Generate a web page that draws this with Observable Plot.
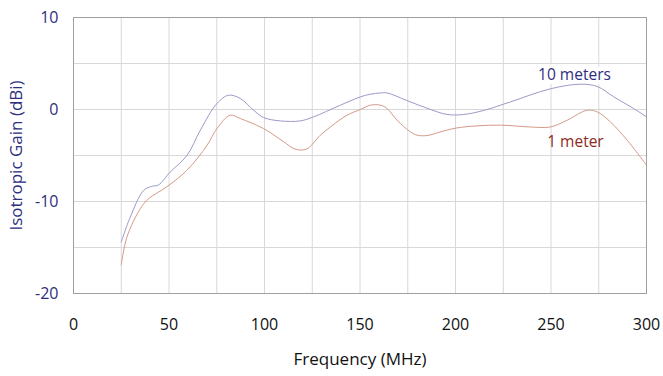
<!DOCTYPE html>
<html>
<head>
<meta charset="utf-8">
<script src="https://cdn.jsdelivr.net/npm/d3@7"></script>
<script src="https://cdn.jsdelivr.net/npm/@observablehq/plot@0.6"></script>
<style>
  html, body { margin: 0; padding: 0; background: #fff; }
  #chart svg { display: block; }
</style>
</head>
<body>
<div id="chart"></div>
<script>
// 10 meters series
const freq10 = [25, 29.7, 36.7, 41, 44.5, 50.6, 59.4, 66.4, 75.1, 81.2, 87.3, 94.3, 99.5, 108.3, 118.7, 125.7, 139.7, 150.2, 155.4, 160.7, 164.2, 174.6, 185.1, 195.6, 204.3, 214.8, 228.8, 249.7, 265.4, 274.2, 282.9, 293.3, 300];
const gain10 = [-14.4, -11.7, -8.8, -8.35, -8.2, -6.8, -5.0, -2.25, 0.65, 1.55, 1.2, -0.08, -0.87, -1.24, -1.24, -0.8, 0.47, 1.37, 1.66, 1.8, 1.8, 0.97, 0.14, -0.54, -0.54, -0.1, 0.83, 2.25, 2.75, 2.5, 1.37, 0.1, -0.8];
// 1 meter series
const freq1 = [25, 28, 35, 39.3, 48.9, 59.4, 69.9, 75.1, 82, 87.3, 99.5, 110, 116, 122, 129.2, 134.5, 143.2, 150.2, 155.4, 160.7, 164.2, 169.4, 176.4, 179.9, 185.1, 193.8, 200.8, 211.3, 223.5, 239.2, 249.7, 258.5, 268.9, 274.2, 281.1, 289.9, 300];
const gain1 = [-16.9, -13.85, -10.77, -9.7, -8.4, -6.6, -3.9, -2.07, -0.62, -0.98, -2.07, -3.5, -4.3, -4.3, -2.8, -1.9, -0.62, 0.0, 0.47, 0.47, 0.1, -1.16, -2.43, -2.79, -2.83, -2.33, -2.0, -1.78, -1.7, -1.9, -1.9, -1.16, -0.08, -0.26, -1.35, -3.34, -6.05];
// ticks
const xTicks = [0, 50, 100, 150, 200, 250, 300];
const xGrid = [25, 50, 75, 100, 125, 150, 175, 200, 225, 250, 275];
const yTicks = [-20, -10, 0, 10];
const yGrid = [-15, -10, -5, 0, 5];
// series labels
const seriesNames = ["10 meters", "1 meter"];
const labelFreq = [262.3, 262.8];
const labelGain = [3.73, -3.5];

const navy = "#2e2e7e";
const data10 = freq10.map((f, i) => ({f, g: gain10[i]}));
const data1 = freq1.map((f, i) => ({f, g: gain1[i]}));

const chart = Plot.plot({
  width: 663,
  height: 376,
  marginLeft: 73,
  marginRight: 17,
  marginTop: 17,
  marginBottom: 83,
  style: {fontFamily: "'Open Sans', sans-serif", fontSize: "15px", background: "#fff"},
  x: {domain: [0, 300], labelArrow: "none"},
  y: {domain: [-20, 10], labelArrow: "none"},
  marks: [
    Plot.gridX(xGrid, {stroke: "#d8d8d8", strokeOpacity: 1}),
    Plot.gridY(yGrid, {stroke: "#d8d8d8", strokeOpacity: 1}),
    Plot.frame({stroke: "#a0a0a0"}),
    Plot.axisX(xTicks, {tickSize: 0, tickPadding: 25, color: "#111", fontSize: 16, label: null, tickFormat: d => String(d)}),
    Plot.axisX({label: "Frequency (MHz)", labelArrow: "none", labelAnchor: "center", labelOffset: 71, ticks: [], tickSize: 0, color: "#111", fontSize: 17}),
    Plot.axisY(yTicks, {tickSize: 0, tickPadding: 15, color: navy, fontSize: 16, label: null, tickFormat: d => String(d)}),
    Plot.axisY({label: "Isotropic Gain (dBi)", labelArrow: "none", labelAnchor: "center", labelOffset: 64, ticks: [], tickSize: 0, color: navy, fontSize: 17}),
    Plot.text([0], {x: () => labelFreq[0], y: () => labelGain[0], text: () => seriesNames[0], fill: navy, stroke: "white", strokeWidth: 8, fontSize: 15.5}),
    Plot.text([1], {x: () => labelFreq[1], y: () => labelGain[1], text: () => seriesNames[1], fill: "#8a2a1c", fontSize: 15.5}),
    Plot.line(data10, {x: "f", y: "g", stroke: "#9a9ac8", strokeWidth: 1, curve: "catmull-rom"}),
    Plot.line(data1, {x: "f", y: "g", stroke: "#d49a88", strokeWidth: 1, curve: "catmull-rom"})
  ]
});
document.getElementById("chart").appendChild(chart);
</script>
</body>
</html>
